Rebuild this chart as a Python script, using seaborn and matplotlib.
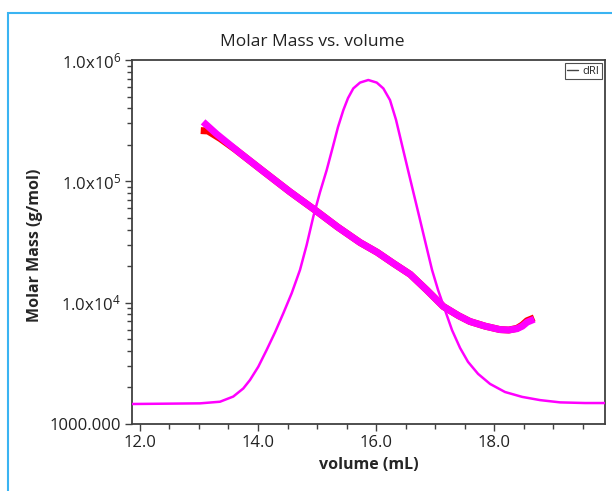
import numpy as np
import pandas as pd
import matplotlib
matplotlib.use("Agg")
import matplotlib.pyplot as plt
import matplotlib.ticker as mticker
from matplotlib.lines import Line2D
from matplotlib.patches import Rectangle
import seaborn as sns

# Molar mass (magenta, main trace)
mm_volume = [13.07, 13.3, 13.69, 14.1, 14.54, 15.0, 15.35, 15.73, 16.02, 16.3, 16.58,
             16.86, 17.14, 17.4, 17.59, 17.85, 18.1, 18.25, 18.39, 18.48, 18.56, 18.68]
mm_mass = [3.09e5, 2.45e5, 1.72e5, 1.2e5, 8.2e4, 5.64e4, 4.2e4, 3.13e4, 2.6e4, 2.1e4, 1.71e4,
           1.27e4, 9.3e3, 7.8e3, 7.0e3, 6.4e3, 6.0e3, 5.95e3, 6.1e3, 6.4e3, 6.9e3, 7.3e3]

# second molar mass trace (red, mostly hidden under magenta)
red_volume = [13.03, 13.15, 13.36, 13.61, 14.1, 14.54, 15.0, 15.35, 15.73, 16.02, 16.3,
              16.58, 16.86, 17.14, 17.4, 17.59, 17.85, 18.1, 18.25, 18.39, 18.48, 18.56,
              18.68]
red_mass = [2.62e5, 2.6e5, 2.25e5, 1.84e5, 1.2e5, 8.2e4, 5.64e4, 4.2e4, 3.13e4, 2.6e4,
            2.1e4, 1.71e4, 1.27e4, 9.3e3, 7.8e3, 7.0e3, 6.4e3, 6.0e3, 5.95e3, 6.15e3,
            6.55e3, 7.1e3, 7.5e3]

# dRI chromatogram (relative signal, linear scale)
dri_volume = [11.865, 13.017, 13.356, 13.581, 13.751, 13.864, 14.005, 14.147, 14.288,
              14.429, 14.571, 14.712, 14.825, 14.937, 15.051, 15.164, 15.276, 15.356,
              15.446, 15.525, 15.615, 15.729, 15.869, 16.012, 16.124, 16.237, 16.339,
              16.441, 16.542, 16.644, 16.746, 16.847, 16.949, 17.051, 17.169, 17.288,
              17.424, 17.559, 17.729, 17.932, 18.186, 18.475, 18.78, 19.119, 19.54, 19.88]
dri_signal = [0.0, 0.002, 0.007, 0.023, 0.048, 0.074, 0.115, 0.167, 0.221,
              0.28, 0.342, 0.414, 0.491, 0.578, 0.654, 0.722, 0.799, 0.855,
              0.907, 0.944, 0.974, 0.992, 1.0, 0.992, 0.974, 0.938, 0.877,
              0.799, 0.722, 0.645, 0.568, 0.491, 0.414, 0.352, 0.29, 0.228,
              0.173, 0.13, 0.093, 0.062, 0.037, 0.022, 0.012, 0.005, 0.003, 0.003]

sns.set_style("ticks")
plt.rcParams['font.family'] = ['Open Sans', 'DejaVu Sans']
plt.rcParams['mathtext.fontset'] = 'custom'
plt.rcParams['mathtext.rm'] = 'Open Sans'
plt.rcParams['mathtext.it'] = 'Open Sans'

fig = plt.figure(figsize=(6.12, 4.91), dpi=100)
ax = fig.add_axes([132 / 612, 1 - 424 / 491, 473 / 612, 364 / 491])

# outer light blue frame
fig.patches.append(Rectangle((8 / 612, -0.1), 1.2, 1 - 13 / 491 + 0.1,
                             transform=fig.transFigure, fill=False,
                             edgecolor='#3ab4f2', lw=1.5))

sns.lineplot(x=red_volume, y=red_mass, ax=ax, color='#ff0000', lw=5.0,
             sort=False, estimator=None, solid_capstyle='butt')
sns.lineplot(x=mm_volume, y=mm_mass, ax=ax, color='#ff00ff', lw=5.0,
             sort=False, estimator=None, solid_capstyle='butt')
ax.set_yscale('log')
ax.set_ylim(1000, 1e6)
ax.set_xlim(11.865, 19.88)

ax2 = ax.twinx()
sns.lineplot(x=dri_volume, y=dri_signal, ax=ax2, color='#ff00ff', lw=1.8,
             sort=False, estimator=None)
ax2.set_ylim(-20 / 324, 344 / 324)
ax2.set_xlim(11.865, 19.88)
ax2.axis('off')


def fmt(v, pos):
    if abs(v - 1000) < 1:
        return '1000.000'
    e = int(round(np.log10(v)))
    return r'1.0x10$^{%d}$' % e


ax.yaxis.set_major_locator(mticker.FixedLocator([1e3, 1e4, 1e5, 1e6]))
ax.yaxis.set_major_formatter(mticker.FuncFormatter(fmt))
ax.yaxis.set_minor_locator(mticker.LogLocator(base=10, subs=np.arange(2, 10)))
ax.yaxis.set_minor_formatter(mticker.NullFormatter())
ax.xaxis.set_major_locator(mticker.MultipleLocator(2))
ax.xaxis.set_minor_locator(mticker.MultipleLocator(0.5))
ax.xaxis.set_major_formatter(mticker.FormatStrFormatter('%.1f'))

ax.tick_params(axis='both', which='major', length=5, width=1, color='#404040',
               labelsize=12, labelcolor='#222222', pad=3)
ax.tick_params(axis='both', which='minor', length=3.5, width=1, color='#404040')
for s in ax.spines.values():
    s.set_visible(True)
    s.set_color('#404040')
    s.set_linewidth(1.3)

ax.set_xlabel('volume (mL)', fontsize=11.5, fontweight='bold', labelpad=4)
ax.set_ylabel('Molar Mass (g/mol)', fontsize=11.5, fontweight='bold')
ax.yaxis.set_label_coords(-0.188, 0.49)
fig.text(312 / 612, 1 - 42 / 491, 'Molar Mass vs. volume', ha='center', va='center',
         fontsize=12.5, color='#222222')

handle = Line2D([0], [0], color='#444444', lw=1)
leg = ax.legend([handle], ['dRI'], loc='upper right', fontsize=8, frameon=True,
                fancybox=False, handlelength=1.0, handletextpad=0.4,
                borderpad=0.2, borderaxespad=0.3)
leg.get_frame().set_edgecolor('#222222')
leg.get_frame().set_linewidth(0.8)

fig.savefig('out.png', dpi=100)
